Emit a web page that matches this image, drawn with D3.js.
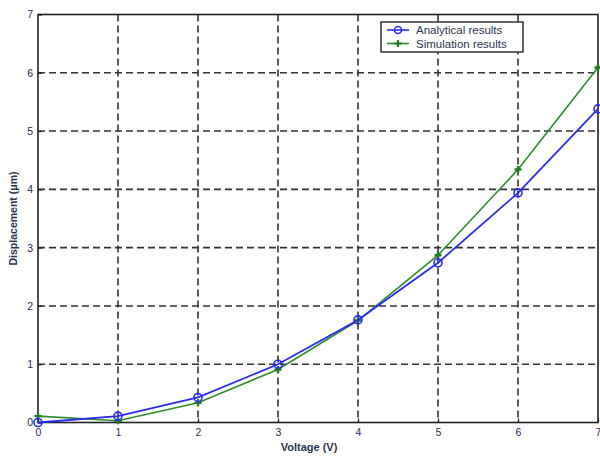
<!DOCTYPE html>
<html>
<head>
<meta charset="utf-8">
<script src="https://cdn.jsdelivr.net/npm/d3@7"></script>
<style>
  body { margin: 0; background: #fff; }
  svg { display: block; }
  text { font-family: "Liberation Sans", Arial, sans-serif; }
</style>
</head>
<body>
<svg id="chart" width="600" height="456"></svg>
<script>
// Voltage sweep and measured/predicted displacement
const voltages = [0, 1, 2, 3, 4, 5, 6, 7];
const analytical = [0.0, 0.11, 0.43, 1.0, 1.76, 2.74, 3.94, 5.38];
const simulation = [0.11, 0.03, 0.34, 0.91, 1.75, 2.87, 4.34, 6.09];
const xTicks = [0, 1, 2, 3, 4, 5, 6, 7];
const yTicks = [0, 1, 2, 3, 4, 5, 6, 7];
const seriesNames = ["Analytical results", "Simulation results"];

const svg = d3.select("#chart");
const plotL = 38, plotR = 598, plotT = 14.5, plotB = 422.5;

const x = d3.scaleLinear().domain([0, 7]).range([plotL, plotR]);
const y = d3.scaleLinear().domain([0, 7]).range([plotB, plotT]);

const tickColor = "#1c2c5c";

// dashed grid
const grid = svg.append("g");
grid.selectAll("line.v").data(xTicks.slice(1, -1)).join("line")
  .attr("x1", d => x(d)).attr("x2", d => x(d))
  .attr("y1", plotT).attr("y2", plotB)
  .attr("stroke", "#333").attr("stroke-width", 1.6).attr("stroke-dasharray", "7,4");
grid.selectAll("line.h").data(yTicks.slice(1, -1)).join("line")
  .attr("x1", plotL).attr("x2", plotR)
  .attr("y1", d => y(d)).attr("y2", d => y(d))
  .attr("stroke", "#333").attr("stroke-width", 1.6).attr("stroke-dasharray", "7,4");

// axes
const xAxis = d3.axisBottom(x).tickValues(xTicks).tickSize(-4).tickPadding(6).tickFormat(d3.format("d"));
const yAxis = d3.axisLeft(y).tickValues(yTicks).tickSize(-4).tickPadding(5).tickFormat(d3.format("d"));

const gx = svg.append("g").attr("transform", `translate(0,${plotB})`).call(xAxis);
const gy = svg.append("g").attr("transform", `translate(${plotL},0)`).call(yAxis);
[gx, gy].forEach(g => {
  g.select(".domain").remove();
  g.selectAll(".tick line").attr("stroke", "#222").attr("stroke-width", 1.2);
  g.selectAll(".tick text").attr("fill", tickColor).attr("font-size", 10.5);
});

// frame
svg.append("rect").attr("x", plotL).attr("y", plotT)
  .attr("width", plotR - plotL).attr("height", plotB - plotT)
  .attr("fill", "none").attr("stroke", "#222").attr("stroke-width", 1.6);

// axis titles
svg.append("text").attr("x", 309).attr("y", 451)
  .attr("text-anchor", "middle").attr("font-size", 11).attr("font-weight", "bold")
  .attr("fill", "#2a3550").text("Voltage (V)");
svg.append("text").attr("transform", `translate(17,${(plotT + plotB) / 2}) rotate(-90)`)
  .attr("text-anchor", "middle").attr("font-size", 10.5).attr("font-weight", "bold")
  .attr("fill", "#2a3550").text("Displacement (μm)");

const line = d3.line().x((d, i) => x(voltages[i])).y(d => y(d));

// simulation series (green, plus markers)
svg.append("path").datum(simulation).attr("d", line)
  .attr("fill", "none").attr("stroke", "#2e8b2e").attr("stroke-width", 1.6);
svg.append("g").selectAll("path").data(simulation).join("path")
  .attr("transform", (d, i) => `translate(${x(voltages[i])},${y(d)})`)
  .attr("d", "M-3.5,0H3.5M0,-3.5V3.5")
  .attr("stroke", "#1e7a1e").attr("stroke-width", 2.4);

// analytical series (blue, open circles)
svg.append("path").datum(analytical).attr("d", line)
  .attr("fill", "none").attr("stroke", "#2a2af0").attr("stroke-width", 1.8);
svg.append("g").selectAll("circle").data(analytical).join("circle")
  .attr("cx", (d, i) => x(voltages[i])).attr("cy", d => y(d)).attr("r", 4)
  .attr("fill", "none").attr("stroke", "#2a2af0").attr("stroke-width", 1.6);

// legend
const lg = svg.append("g");
lg.append("rect").attr("x", 381).attr("y", 22).attr("width", 142).attr("height", 30)
  .attr("fill", "#fff").attr("stroke", "#222").attr("stroke-width", 1.4);
const legendItems = [
  { name: seriesNames[0], color: "#2a2af0", marker: "circle" },
  { name: seriesNames[1], color: "#2e8b2e", marker: "plus" }
];
legendItems.forEach((it, i) => {
  const ly = 30 + i * 13.5;
  lg.append("line").attr("x1", 387).attr("x2", 409).attr("y1", ly).attr("y2", ly)
    .attr("stroke", it.color).attr("stroke-width", 1.6);
  if (it.marker === "circle") {
    lg.append("circle").attr("cx", 398).attr("cy", ly).attr("r", 3.5)
      .attr("fill", "none").attr("stroke", it.color).attr("stroke-width", 1.5);
  } else {
    lg.append("path").attr("transform", `translate(398,${ly})`)
      .attr("d", "M-3.5,0H3.5M0,-3.5V3.5").attr("stroke", "#1e7a1e").attr("stroke-width", 2.2);
  }
  lg.append("text").attr("x", 416).attr("y", ly + 4).attr("font-size", 11.5)
    .attr("fill", "#2a3550").text(it.name);
});
</script>
</body>
</html>
